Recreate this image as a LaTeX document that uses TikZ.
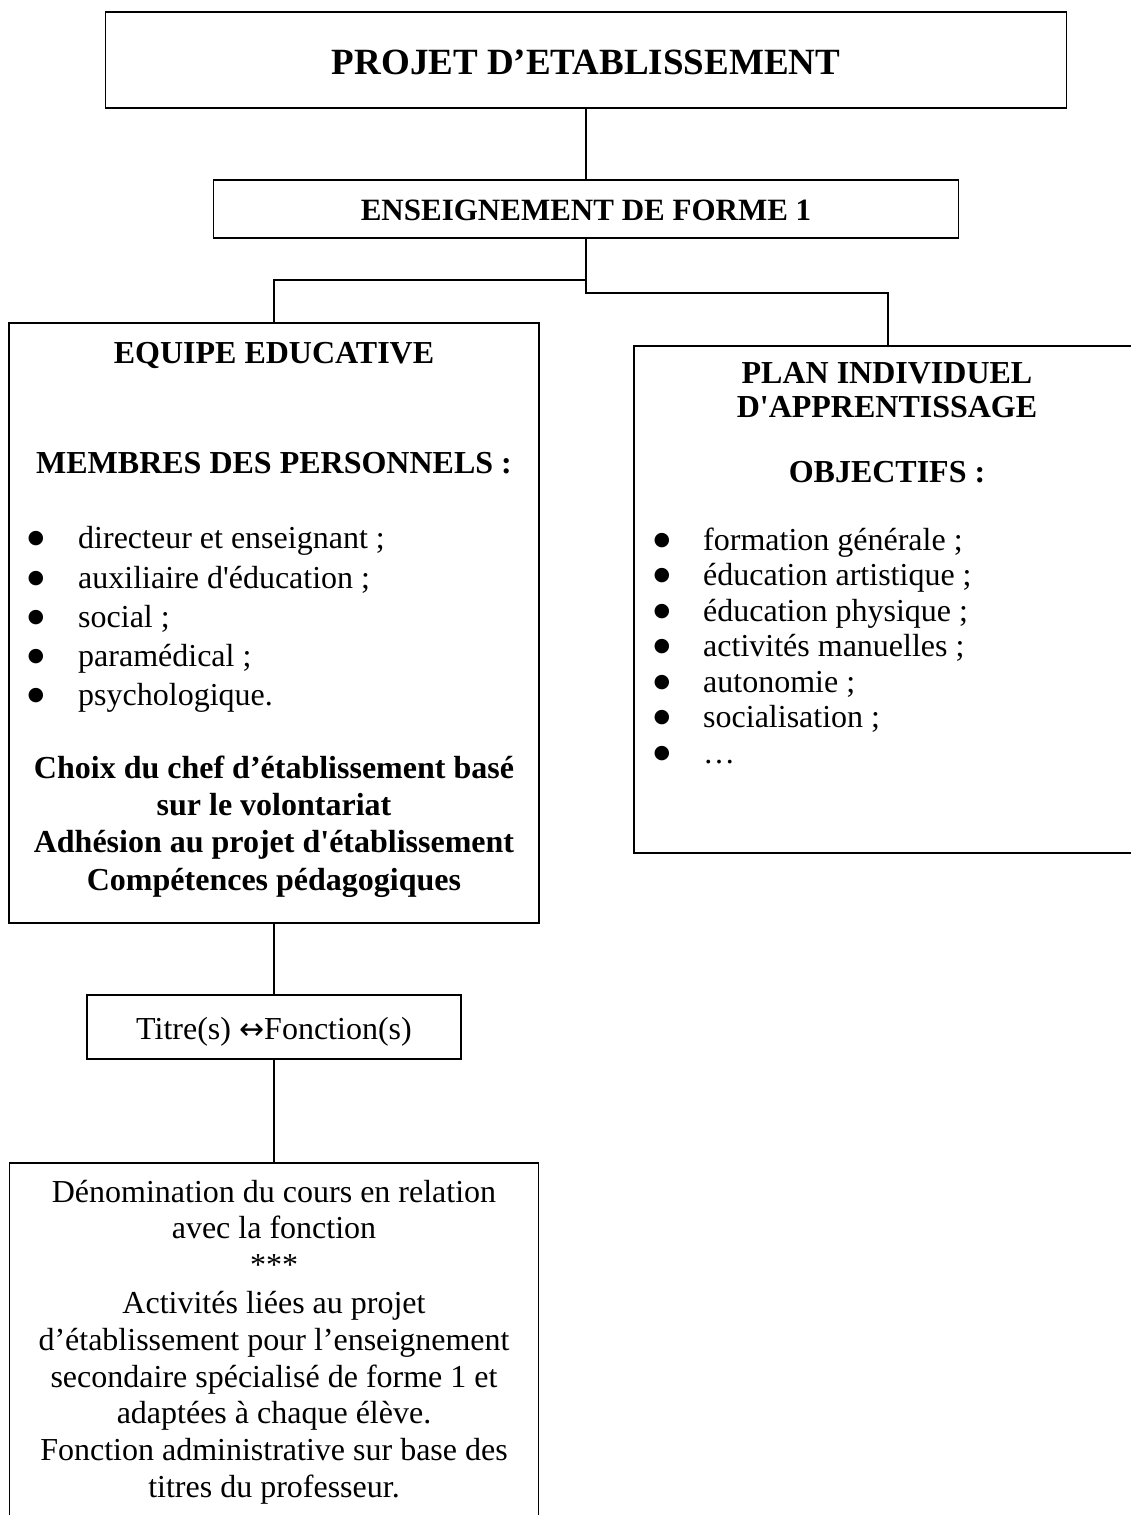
\documentclass[tikz,border=0pt]{standalone}
\usepackage{fontspec}
\setmainfont{Liberation Serif}
\newfontfamily\arrowfont{DejaVu Sans}
\newcommand{\sq}{\textquotesingle}
\begin{document}
\begin{tikzpicture}[x=1pt,y=-1pt,
  box/.style={draw=black,line width=1.8pt,inner sep=0pt,fill=none},
  conn/.style={draw=black,line width=1.8pt},
  ttl/.style={inner sep=0pt,anchor=base,font=\fontsize{37}{42}\selectfont\bfseries},
  hd/.style={inner sep=0pt,anchor=base,font=\fontsize{32}{37}\selectfont\bfseries},
  hdb/.style={inner sep=0pt,anchor=base,font=\fontsize{31}{36}\selectfont\bfseries},
  txt/.style={inner sep=0pt,anchor=base,font=\fontsize{32}{37}\selectfont},
  itm/.style={inner sep=0pt,anchor=base west,font=\fontsize{32}{37}\selectfont},
  bul/.style={inner sep=0pt,anchor=base,font=\arrowfont\fontsize{19}{22}\selectfont}]
\useasboundingbox (0,0) rectangle (1131,1515);
\fill[white] (0,0) rectangle (1131,1515);

% boxes
\node[box,minimum width=961pt,minimum height=96pt] (top) at (586,60) {};
\node[box,minimum width=745pt,minimum height=58pt] (ens) at (586,209) {};
\node[box,minimum width=530pt,minimum height=600pt] (equipe) at (274,623) {};
\node[box,minimum width=508pt,minimum height=507pt] (plan) at (888,599.5) {};
\node[box,minimum width=374pt,minimum height=64pt] (titre) at (274,1027) {};
\node[box,minimum width=529pt,minimum height=367pt] (denom) at (274,1346.5) {};

% connectors
\coordinate (jl) at (586,280);
\coordinate (jr) at (586,293);
\draw[conn] (top.south) -- (ens.north);
\draw[conn] (ens.south) -- (jr) -| (plan.north);
\draw[conn] (jl) -| (equipe.north);
\draw[conn] (equipe.south) -- (titre.north);
\draw[conn] (titre.south) -- (denom.north);

% texts
\node[ttl] (t1) at (586,74) {PROJET D’ETABLISSEMENT};
\node[hdb] (t2) at (586,220) {ENSEIGNEMENT DE FORME 1};

\node[hd] (e1) at (274,363) {EQUIPE EDUCATIVE};
\node[hd] (e2) at (274,473) {MEMBRES DES PERSONNELS :};
\foreach \y/\t [count=\i] in {548/{directeur et enseignant ;},588/{auxiliaire d\sq éducation ;},627/{social ;},666/{paramédical ;},705/{psychologique.}}{
  \node[bul] (eb\i) at (36,\y-5) {●};
  \node[itm] (ei\i) at (78,\y) {\t};
}
\node[hd] (c1) at (274,778) {Choix du chef d’établissement basé};
\node[hd] (c2) at (274,815) {sur le volontariat};
\node[hd] (c3) at (274,852) {Adhésion au projet d\sq établissement};
\node[hd] (c4) at (274,890) {Compétences pédagogiques};

\node[hd] (p1) at (887,383) {PLAN INDIVIDUEL};
\node[hd] (p2) at (887,417) {D\sq APPRENTISSAGE};
\node[hd] (p3) at (887,482) {OBJECTIFS :};
\foreach \y/\t [count=\i] in {550/{formation générale ;},585.5/{éducation artistique ;},621/{éducation physique ;},656.5/{activités manuelles ;},692/{autonomie ;},727.5/{socialisation ;},763/{…}}{
  \node[bul] (pb\i) at (662,\y-5) {●};
  \node[itm] (pi\i) at (703,\y) {\t};
}

\node[txt] (tf) at (274,1039) {Titre(s) {\arrowfont\fontsize{30}{36}\selectfont ↔}Fonction(s)};

\foreach \y/\t [count=\i] in {1202/{Dénomination du cours en relation},1238/{avec la fonction},1275/{***},1313/{Activités liées au projet},1350/{d’établissement pour l’enseignement},1387/{secondaire spécialisé de forme 1 et},1423/{adaptées à chaque élève.},1460/{Fonction administrative sur base des},1497/{titres du professeur.}}{
  \node[txt] (d\i) at (274,\y) {\t};
}
\end{tikzpicture}
\end{document}
